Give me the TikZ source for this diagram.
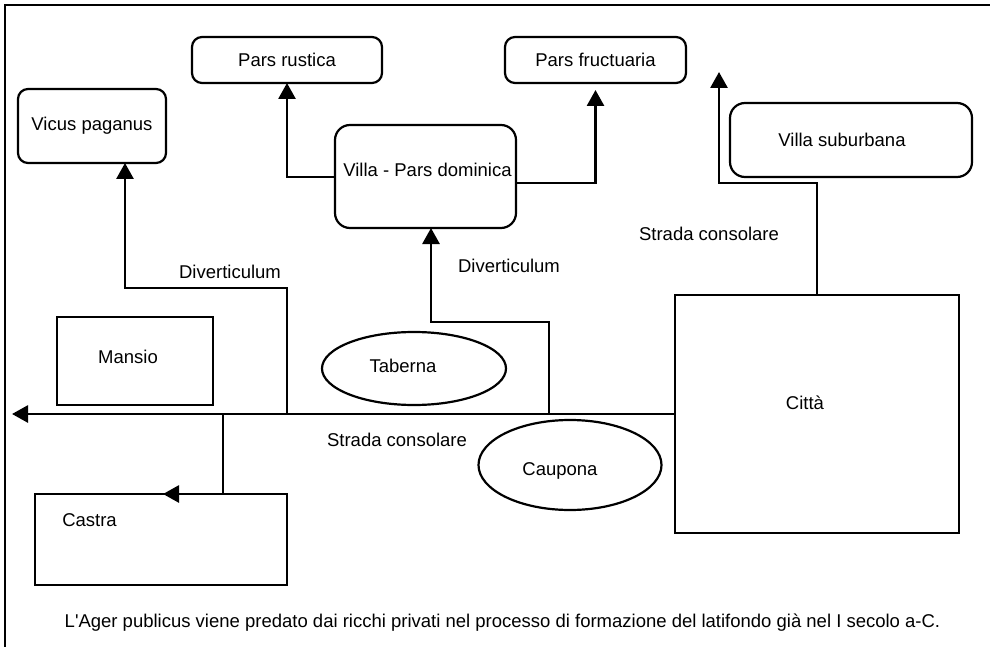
\documentclass[tikz,border=0pt]{standalone}
\usepackage{fontspec}
\setmainfont{Liberation Sans}
\usetikzlibrary{arrows.meta,shapes.geometric}
\begin{document}
\begin{tikzpicture}[x=1pt,y=-1pt,
  every node/.style={font=\fontsize{18.5}{22}\selectfont, inner sep=0pt, outer sep=0pt},
  rbox/.style={draw, line width=2.2pt, rounded corners=10pt},
  sbox/.style={draw, line width=2.2pt},
  oval/.style={draw, ellipse, line width=2.2pt},
  conn/.style={line width=2.8pt},
  arr/.style={conn, -{Triangle[length=16pt 0,width=17pt 0]}},
  txt/.style={}]
\useasboundingbox (0,0) rectangle (990,647);
% frame
\draw[line width=2.2pt] (990,5) -- (5,5) -- (5,647);

% nodes
\node[rbox, minimum width=148pt, minimum height=74pt] (vicus) at (92,126) {Vicus paganus};
\node[rbox, minimum width=190pt, minimum height=46pt] (rustica) at (287,60) {Pars rustica};
\node[rbox, minimum width=181pt, minimum height=46pt] (fruct) at (595.5,60) {Pars fructuaria};
\node[rbox, rounded corners=15pt, minimum width=181pt, minimum height=103pt,
      label={[xshift=2pt,yshift=6.5pt]center:Villa - Pars dominica}] (villa) at (425.5,176.5) {};
\node[rbox, rounded corners=15pt, minimum width=242pt, minimum height=74pt,
      label={[xshift=-9pt]center:Villa suburbana}] (suburb) at (851,140) {};
\node[sbox, minimum width=156pt, minimum height=88pt,
      label={[xshift=-7pt,yshift=4pt]center:Mansio}] (mansio) at (135,361) {};
\node[oval, minimum width=184pt, minimum height=73pt,
      label={[xshift=-11pt,yshift=2.5pt]center:Taberna}] (taberna) at (414,368.5) {};
\node[oval, minimum width=183pt, minimum height=90pt,
      label={[xshift=-10pt,yshift=-6pt]center:Caupona}] (caupona) at (570,465) {};
\node[sbox, minimum width=284pt, minimum height=238pt,
      label={[xshift=-12pt,yshift=11pt]center:Città}] (citta) at (817,414) {};
\node[sbox, minimum width=252pt, minimum height=91pt,
      label={[xshift=-71.5pt,yshift=19.5pt]center:Castra}] (castra) at (161,539.5) {};

% labels
\node[txt] (div1) at (230,271.5) {Diverticulum};
\node[txt] (div2) at (509,265.5) {Diverticulum};
\node[txt] (str1) at (709,234) {Strada consolare};
\node[txt] (str2) at (397,440) {Strada consolare};
\node[txt, anchor=base] (note) at (502.5,627) {L\textquotesingle Ager publicus viene predato dai ricchi privati nel processo di formazione del latifondo già nel I secolo a-C.};

% named free ends / junctions
\coordinate (roadend) at (12,414);
\coordinate (j1) at (287,414);
\coordinate (j2) at (223,414);
\coordinate (j3) at (549,414);
\coordinate (cityend) at (719,72);

% connectors
\draw[arr] (citta.west) -- (roadend);
\draw[arr] (j1) -- ++(0,-126) -| ([xshift=33pt]vicus.south);
\draw[arr] (j2) |- ([xshift=2pt]castra.north);
\draw[arr] (j3) -- ++(0,-92) -| ([xshift=5.5pt]villa.south);
\draw[arr] ([yshift=-0.5pt]villa.west) -| (rustica.south);
\draw[arr] ([yshift=-6.5pt]villa.east) -| ([yshift=-7pt]fruct.south);
\draw[arr] (citta.north) -- ++(0,-112) -| (cityend);
\end{tikzpicture}
\end{document}
